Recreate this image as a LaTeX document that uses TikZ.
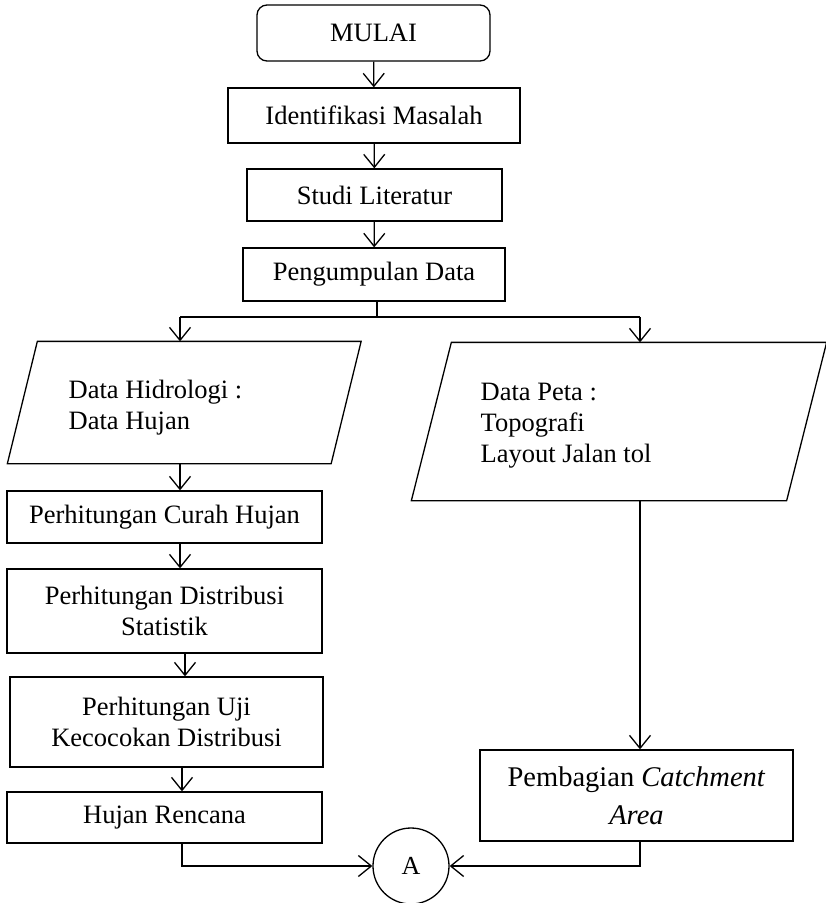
\documentclass[tikz,border=0pt]{standalone}
\usepackage{fontspec}
\setmainfont{Liberation Serif}
\usetikzlibrary{arrows.meta,calc}
\begin{document}
\begin{tikzpicture}[x=1pt,y=-1pt,
  line width=1.3pt,
  every node/.style={font=\fontsize{26.5}{31}\selectfont},
  box/.style={draw,rectangle,inner sep=0pt,align=center},
  arr/.style={-{Straight Barb[length=13pt,width=21pt,line width=1.3pt]}},
  txt/.style={inner sep=0pt,anchor=north west,align=left}]
\useasboundingbox (0,0) rectangle (826,903);
% top column
\node[box,rounded corners=10pt,minimum width=233pt,minimum height=56pt] (mulai) at (373.5,33) {MULAI};
\node[box,minimum width=292pt,minimum height=55pt] (ident) at (374,115.5) {Identifikasi Masalah};
\node[box,minimum width=255pt,minimum height=52pt] (studi) at (374.5,195) {Studi Literatur};
\node[box,minimum width=262pt,minimum height=53pt] (peng) at (374,274.5) {Pengumpulan Data};
% parallelograms (bounding nodes)
\node[inner sep=0pt,minimum width=322.5pt,minimum height=121pt] (hid) at (184.25,402.5) {};
\draw ([xshift=15pt]hid.north west) -- ([xshift=15pt]hid.north east)
  -- ([xshift=-15pt]hid.south east) -- ([xshift=-15pt]hid.south west) -- cycle;
\node[txt] (hidt) at (68,379) {Data Hidrologi :\\Data Hujan};
\node[inner sep=0pt,minimum width=374pt,minimum height=157pt] (peta) at (619,421.5) {};
\draw ([xshift=20pt]peta.north west) -- ([xshift=20pt]peta.north east)
  -- ([xshift=-20pt]peta.south east) -- ([xshift=-20pt]peta.south west) -- cycle;
\node[txt] (petat) at (480,382) {Data Peta :\\Topografi\\Layout Jalan tol};
% left column
\node[box,minimum width=315pt,minimum height=52pt] (curah) at (164.5,517) {Perhitungan Curah Hujan};
\node[box,minimum width=315pt,minimum height=84pt] (dist) at (164.5,611) {Perhitungan Distribusi\\Statistik};
\node[box,minimum width=313pt,minimum height=90pt] (uji) at (166.5,722) {Perhitungan Uji\\Kecocokan Distribusi};
\node[box,minimum width=315pt,minimum height=51pt] (hujan) at (164.5,817.5) {Hujan Rencana};
% right column
\node[box,minimum width=313pt,minimum height=91pt,font=\fontsize{28.5}{38}\selectfont] (pemb) at (636.5,795.5) {Pembagian \textit{Catchment}\\\textit{Area}};
% connector
\node[draw,circle,inner sep=0pt,minimum size=76pt,font=\fontsize{26}{30}\selectfont] (A) at (411,866) {A};
% junction coordinates
\coordinate (jM) at (377,317);
\coordinate (jL) at (180,317);
\coordinate (jR) at (640,317);
\coordinate (cL2) at (185,0);
\coordinate (cH) at (182,0);
% connectors
\draw[arr] (mulai) -- (ident);
\draw[arr] (ident) -- (studi);
\draw[arr] (studi) -- (peng);
\draw (peng.south -| jM) -- (jM);
\draw (jL) -- (jR);
\draw[arr] (jL) -- (hid.north -| jL);
\draw[arr] (jR) -- (peta.north -| jR);
\draw[arr] (hid.south -| jL) -- (curah.north -| jL);
\draw[arr] (curah.south -| jL) -- (dist.north -| jL);
\draw[arr] (dist.south -| cL2) -- (uji.north -| cL2);
\draw[arr] (uji.south -| cH) -- (hujan.north -| cH);
\draw[arr] (hujan.south -| cH) |- (A.west);
\draw[arr] (peta.south -| jR) -- (pemb.north -| jR);
\draw[arr] (pemb.south -| jR) |- (A.east);
\end{tikzpicture}
\end{document}
